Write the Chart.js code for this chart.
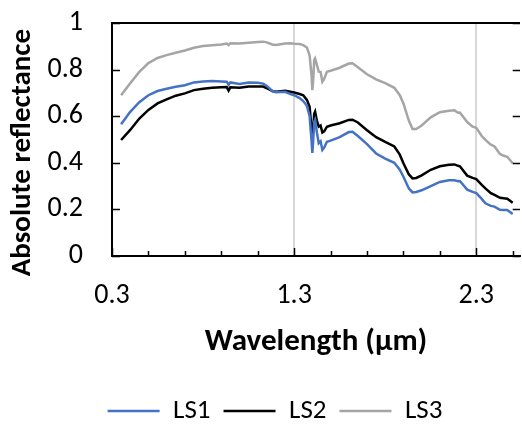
<!DOCTYPE html>
<html>
<head>
<meta charset="utf-8">
<script src="https://cdn.jsdelivr.net/npm/chart.js@4"></script>
<style>
  body { margin: 0; background: #fff; }
  canvas { display: block; }
</style>
</head>
<body>
<canvas id="spectra" width="522" height="425"></canvas>
<script>
// wavelength in µm, reflectance
const wavelength = [0.35, 0.40, 0.45, 0.50, 0.55, 0.60, 0.65, 0.70, 0.75, 0.80,
    0.85, 0.90, 0.93, 0.94, 0.95, 1.00, 1.05, 1.10, 1.13, 1.15,
    1.18, 1.20, 1.25, 1.28, 1.30, 1.33, 1.35, 1.37, 1.385, 1.395,
    1.40, 1.405, 1.41, 1.415, 1.425, 1.435, 1.445, 1.455, 1.465, 1.48,
    1.50, 1.55, 1.60, 1.62, 1.65, 1.70, 1.75, 1.80, 1.85, 1.88,
    1.90, 1.93, 1.95, 1.97, 2.00, 2.05, 2.10, 2.15, 2.18, 2.20,
    2.21, 2.25, 2.28, 2.30, 2.33, 2.35, 2.38, 2.40, 2.43, 2.45,
    2.47, 2.50];

const ls1 = [0.565, 0.619, 0.66, 0.69, 0.708, 0.718, 0.726, 0.733, 0.745, 0.749,
    0.751, 0.749, 0.748, 0.735, 0.745, 0.738, 0.745, 0.744, 0.74, 0.73,
    0.708, 0.703, 0.705, 0.695, 0.69, 0.678, 0.665, 0.645, 0.6, 0.5,
    0.442, 0.5, 0.575, 0.584, 0.53, 0.484, 0.492, 0.455, 0.465, 0.49,
    0.495, 0.51, 0.532, 0.533, 0.515, 0.48, 0.44, 0.418, 0.4, 0.37,
    0.34, 0.29, 0.273, 0.275, 0.282, 0.3, 0.318, 0.325, 0.325, 0.321,
    0.322, 0.285, 0.275, 0.27, 0.245, 0.226, 0.215, 0.212, 0.198, 0.197,
    0.197, 0.18];

const ls2 = [0.498, 0.541, 0.59, 0.627, 0.655, 0.672, 0.688, 0.698, 0.712, 0.718,
    0.722, 0.724, 0.725, 0.71, 0.724, 0.722, 0.727, 0.728, 0.727, 0.72,
    0.708, 0.705, 0.709, 0.705, 0.702, 0.695, 0.69, 0.67, 0.64, 0.55,
    0.486, 0.55, 0.61, 0.619, 0.58, 0.555, 0.56, 0.53, 0.535, 0.555,
    0.56, 0.57, 0.584, 0.585, 0.573, 0.54, 0.51, 0.49, 0.47, 0.435,
    0.398, 0.35, 0.333, 0.335, 0.346, 0.37, 0.385, 0.392, 0.393, 0.387,
    0.385, 0.345, 0.335, 0.33, 0.305, 0.29, 0.27, 0.262, 0.25, 0.248,
    0.246, 0.229];

const ls3 = [0.69, 0.741, 0.79, 0.828, 0.85, 0.862, 0.872, 0.882, 0.894, 0.901,
    0.905, 0.908, 0.912, 0.905, 0.913, 0.912, 0.915, 0.918, 0.92, 0.917,
    0.908, 0.906, 0.912, 0.913, 0.911, 0.91, 0.905, 0.895, 0.86, 0.78,
    0.712, 0.76, 0.84, 0.848, 0.82, 0.791, 0.79, 0.748, 0.76, 0.791,
    0.795, 0.808, 0.826, 0.827, 0.81, 0.78, 0.758, 0.742, 0.722, 0.69,
    0.655, 0.58, 0.545, 0.545, 0.56, 0.595, 0.617, 0.623, 0.625, 0.615,
    0.616, 0.575, 0.555, 0.55, 0.515, 0.498, 0.478, 0.47, 0.438, 0.43,
    0.426, 0.398];

const xTickValues = [0.3, 0.5, 0.7, 0.9, 1.1, 1.3, 1.5, 1.7, 1.9, 2.1, 2.3, 2.5];
const xLabelValues = [0.3, 1.3, 2.3];
const yTickValues = [0, 0.2, 0.4, 0.6, 0.8, 1];

const FONT = 'Carlito, Calibri, Lato, sans-serif';
const LEGEND_SIZE = 27;
const LEGEND_PAD = 13;
const PLOT_BOTTOM = 256;   // px, bottom of the plot box
const LEGEND_CENTER = 411; // px, vertical centre of the legend row

const toPoints = values => wavelength.map((w, i) => ({ x: w, y: values[i] }));
const isLabelled = v => xLabelValues.some(t => Math.abs(v - t) < 1e-6);
const clear = 'rgba(0,0,0,0)';

// box frame and inward tick marks, excel style
const frameTicks = {
    id: 'frameTicks',
    afterLayout(chart) {
        // move the legend row to where the reference has it
        const lg = chart.legend;
        const dy = (LEGEND_CENTER - LEGEND_PAD - LEGEND_SIZE / 2) - lg.top;
        lg.top += dy;
        lg.bottom += dy;
        lg.left += 15;
        lg.right += 15;
    },
    afterDraw(chart) {
        const { ctx, chartArea: a, scales: { x, y } } = chart;
        ctx.save();
        ctx.strokeStyle = '#000';
        ctx.lineWidth = 2;
        ctx.beginPath();
        ctx.moveTo(a.left - 1, a.top);
        ctx.lineTo(a.right, a.top);
        ctx.stroke();

        ctx.lineWidth = 1.5;
        const rightX = x.getPixelForValue(2.5);
        yTickValues.forEach(v => {
            const py = Math.round(y.getPixelForValue(v)) + 0.5;
            ctx.beginPath();
            ctx.moveTo(a.left, py);
            ctx.lineTo(a.left + 8, py);
            ctx.moveTo(rightX, py);
            ctx.lineTo(a.right, py);
            ctx.stroke();
        });
        xTickValues.forEach(v => {
            const px = Math.round(x.getPixelForValue(v)) + 0.5;
            ctx.beginPath();
            ctx.moveTo(px, a.bottom);
            ctx.lineTo(px, a.bottom - (isLabelled(v) ? 8 : 5));
            ctx.stroke();
        });
        ctx.restore();
    }
};

const ctx = document.getElementById('spectra').getContext('2d');
new Chart(ctx, {
    type: 'line',
    data: {
        datasets: [
            { label: 'LS1', data: toPoints(ls1), borderColor: '#4472C4', backgroundColor: '#4472C4', borderWidth: 2.5 },
            { label: 'LS2', data: toPoints(ls2), borderColor: '#000000', backgroundColor: '#000000', borderWidth: 2.5 },
            { label: 'LS3', data: toPoints(ls3), borderColor: '#A5A5A5', backgroundColor: '#A5A5A5', borderWidth: 2.5 }
        ]
    },
    options: {
        responsive: false,
        animation: false,
        layout: { padding: { top: 23, right: 2, left: 0, bottom: 0 } },
        elements: {
            line: { tension: 0 },
            point: { radius: 0 }
        },
        plugins: {
            tooltip: { enabled: false },
            legend: {
                position: 'bottom',
                labels: {
                    usePointStyle: true,
                    pointStyle: 'line',
                    pointStyleWidth: 52,
                    padding: LEGEND_PAD,
                    color: '#000',
                    font: { family: FONT, size: LEGEND_SIZE }
                }
            }
        },
        scales: {
            x: {
                type: 'linear',
                min: 0.3,
                max: 2.54,
                afterBuildTicks: scale => {
                    scale.ticks = xTickValues.map(v => ({ value: v }));
                },
                afterFit: scale => {
                    const lh = (scale.chart.legend && scale.chart.legend.height) || 50;
                    scale.height = scale.chart.height - PLOT_BOTTOM - lh;
                },
                grid: {
                    drawTicks: true,
                    tickLength: 21,
                    tickColor: clear,
                    lineWidth: 2,
                    color: c => (c.tick && isLabelled(c.tick.value) && c.tick.value > 0.5) ? '#d9d9d9' : clear
                },
                border: { display: true, color: '#000', width: 2 },
                ticks: {
                    autoSkip: false,
                    maxRotation: 0,
                    padding: 2,
                    color: '#000',
                    font: { family: FONT, size: 28 },
                    callback: v => isLabelled(v) ? v.toFixed(1) : ''
                },
                title: {
                    display: true,
                    text: 'Wavelength (µm)',
                    color: '#000',
                    font: { family: FONT, size: 31, weight: 'bold' },
                    padding: { top: 0, bottom: 14 }
                }
            },
            y: {
                min: 0,
                max: 1,
                afterBuildTicks: scale => {
                    scale.ticks = yTickValues.map(v => ({ value: v }));
                },
                afterFit: scale => { scale.width = 112; },
                grid: {
                    display: true,
                    drawOnChartArea: false,
                    drawTicks: true,
                    tickLength: 27,
                    tickColor: clear
                },
                border: { display: true, color: '#000', width: 2 },
                ticks: {
                    padding: 2,
                    color: '#000',
                    font: { family: FONT, size: 28 },
                    callback: v => String(Math.round(v * 10) / 10)
                },
                title: {
                    display: true,
                    text: 'Absolute reflectance    ',
                    color: '#000',
                    font: { family: FONT, size: 29, weight: 'bold' },
                    padding: { top: 5, bottom: 0 }
                }
            }
        }
    },
    plugins: [frameTicks]
});
</script>
</body>
</html>
